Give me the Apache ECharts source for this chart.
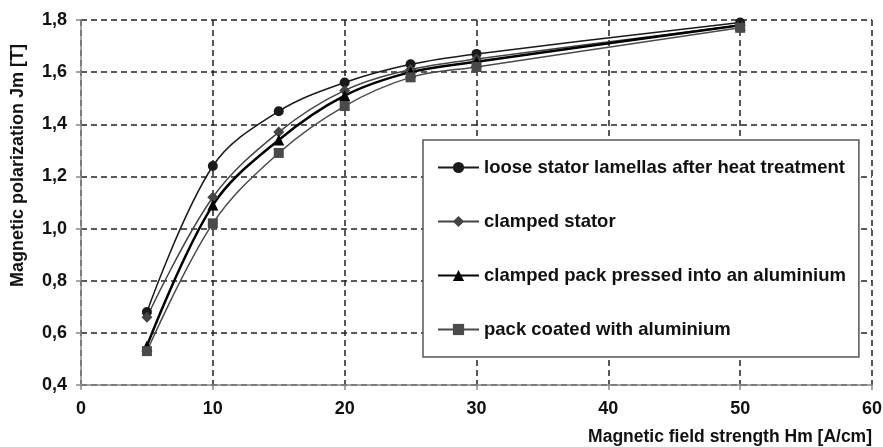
<!DOCTYPE html>
<html>
<head>
<meta charset="utf-8">
<script src="https://cdn.jsdelivr.net/npm/echarts@6/dist/echarts.min.js"></script>
<style>html,body{margin:0;padding:0;background:#fff}#c{width:883px;height:447px}</style>
</head>
<body>
<div id="c"></div>
<script>
const fieldStrength = [5, 10, 15, 20, 25, 30, 50];
const looseLamellas = [0.68, 1.24, 1.45, 1.56, 1.63, 1.67, 1.79];
const clampedStator = [0.66, 1.12, 1.37, 1.53, 1.61, 1.65, 1.78];
const clampedPackAlu = [0.55, 1.09, 1.34, 1.51, 1.60, 1.64, 1.78];
const packCoatedAlu = [0.53, 1.02, 1.29, 1.47, 1.58, 1.62, 1.77];
const seriesNames = [
  'loose stator lamellas after heat treatment',
  'clamped stator',
  'clamped pack pressed into an aluminium',
  'pack coated with aluminium'
];
const xTitle = 'Magnetic field strength Hm [A/cm]';
const yTitle = 'Magnetic polarization Jm [T]';

function pairs(ys){ return fieldStrength.map((x,i)=>[x, ys[i]]); }

const font = 'Arial, "Liberation Sans", Helvetica, sans-serif';
const chart = echarts.init(document.getElementById('c'));
const mk = (name, data, symbol, size, color, lw) => ({
  name, type: 'line', data: pairs(data), smooth: 0.35, symbol, symbolSize: size,
  itemStyle: { color: color },
  lineStyle: { color: color, width: lw },
  emphasis: { disabled: true }
});
chart.setOption({
  animation: false,
  backgroundColor: '#fff',
  grid: { left: 81, right: 11, top: 20, bottom: 62, containLabel: false, outerBoundsMode: 'none' },
  legend: {
    orient: 'vertical', left: 423, top: 140,
    padding: [18, 13, 18, 14],
    itemGap: 35, itemWidth: 41, itemHeight: 14,
    backgroundColor: '#fff',
    borderColor: '#555', borderWidth: 1.5,
    textStyle: { fontFamily: font, fontWeight: 'bold', fontSize: 18.5, color: '#111' },
    data: seriesNames
  },
  xAxis: {
    type: 'value', min: 0, max: 60, interval: 10,
    name: xTitle, nameLocation: 'end', nameGap: 0,
    nameTextStyle: { fontFamily: font, fontWeight: 'bold', fontSize: 17.5, color: '#111',
      align: 'right', verticalAlign: 'top', padding: [43, 0, 0, 0] },
    axisLine: { lineStyle: { color: '#888', width: 1.5 } },
    axisTick: { show: true, length: 5, lineStyle: { color: '#888', width: 1.5 } },
    axisLabel: { fontFamily: font, fontWeight: 'bold', fontSize: 18, color: '#111', margin: 15 },
    splitLine: { show: true, lineStyle: { color: '#222', width: 1.5, type: [6, 4] } }
  },
  yAxis: {
    type: 'value', min: 0.4, max: 1.8, interval: 0.2,
    name: yTitle, nameLocation: 'middle', nameGap: 54, nameRotate: 90,
    nameTextStyle: { fontFamily: font, fontWeight: 'bold', fontSize: 18, color: '#111',
      padding: [0, 0, 0, 74] },
    axisLine: { show: true, lineStyle: { color: '#888', width: 1.5 } },
    axisTick: { show: true, length: 5, lineStyle: { color: '#888', width: 1.5 } },
    axisLabel: { fontFamily: font, fontWeight: 'bold', fontSize: 18, color: '#111', margin: 14,
      formatter: v => v.toFixed(1).replace('.', ',') },
    splitLine: { show: true, lineStyle: { color: '#222', width: 1.5, type: [6, 4] } }
  },
  series: [
    mk(seriesNames[0], looseLamellas, 'circle', 10, '#1a1a1a', 1.5),
    mk(seriesNames[1], clampedStator, 'diamond', 11, '#444', 1.5),
    mk(seriesNames[2], clampedPackAlu, 'triangle', 11, '#000', 2.5),
    mk(seriesNames[3], packCoatedAlu, 'rect', 10, '#4a4a4a', 1.5)
  ]
});
</script>
</body>
</html>
